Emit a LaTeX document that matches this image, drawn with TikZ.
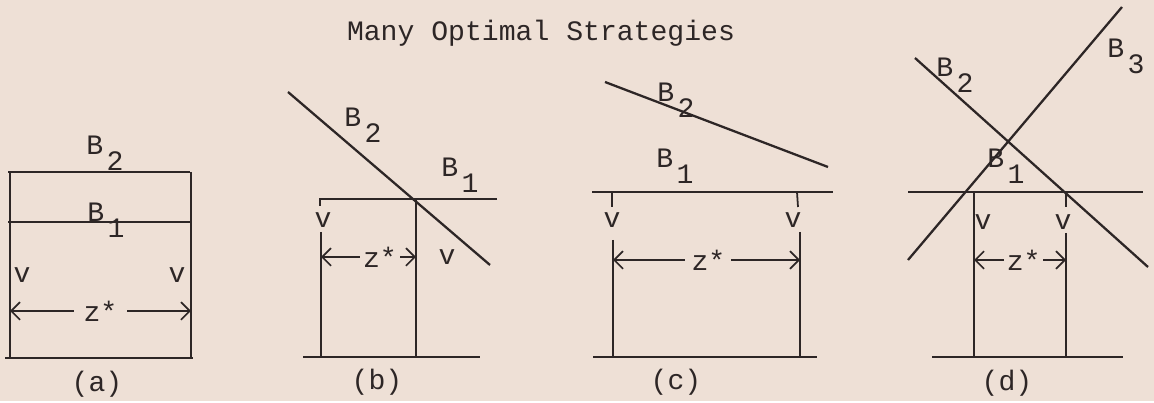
\documentclass[tikz,border=0pt]{standalone}
\usepackage{fontspec}
\setmonofont{Liberation Mono}
\usetikzlibrary{arrows.meta}
\definecolor{paper}{RGB}{238,224,214}
\definecolor{ink}{RGB}{45,38,38}
\newcommand{\bsub}[1]{B\kern2pt\raisebox{-0.55em}{#1}}

\begin{document}
\begin{tikzpicture}[
  x=0.02cm, y=-0.02cm,
  every node/.style={text=ink, font=\ttfamily\fontsize{16}{18}\selectfont},
  budget/.style={ink, line width=1.3pt},
  guide/.style={ink, line width=1pt},
  span/.style={ink, line width=1pt, {Straight Barb[length=5pt]}-{Straight Barb[length=5pt]}},
  blab/.style={anchor=base west, inner sep=0pt},
  zlab/.style={fill=paper, inner ysep=1pt, inner xsep=2pt},
]
  \fill[paper] (0,0) rectangle (1154,401);
  \node[anchor=base] (title) at (541,41) {Many Optimal Strategies};

  % (a)
  \coordinate (a2l) at (8,172);   \coordinate (a2r) at (190,172);
  \coordinate (a1l) at (8,222);   \coordinate (a1r) at (190,222);
  \coordinate (aLt) at (10,172);  \coordinate (aLb) at (10,358);
  \coordinate (aRt) at (191,172); \coordinate (aRb) at (191,358);
  \coordinate (abl) at (5,358);   \coordinate (abr) at (193,358);
  \coordinate (aza) at (10,311);  \coordinate (azb) at (191,311);
  \draw[budget] (a2l) -- (a2r);
  \draw[budget] (a1l) -- (a1r);
  \draw[budget] (abl) -- (abr);
  \draw[guide] (aLt) -- (aLb);
  \draw[guide] (aRt) -- (aRb);
  \draw[span] (aza) -- node[zlab, inner xsep=5.4pt] (az) {z*} (azb);
  \node[blab] (aB2) at (86,155) {\bsub{2}};
  \node[blab] (aB1) at (87,222) {\bsub{1}};
  \node (av1) at (22,275) {v};
  \node (av2) at (177,275) {v};
  \node (acap) at (97,384) {(a)};

  % (b)
  \coordinate (b2a) at (288,92);  \coordinate (b2b) at (490,265);
  \coordinate (b1l) at (320,199); \coordinate (b1r) at (497,199);
  \coordinate (btk) at (320,206);
  \coordinate (bLt) at (321,232); \coordinate (bLb) at (321,357);
  \coordinate (bRt) at (416,199); \coordinate (bRb) at (416,357);
  \coordinate (bbl) at (303,357); \coordinate (bbr) at (480,357);
  \coordinate (bza) at (321,257); \coordinate (bzb) at (416,257);
  \draw[budget] (b2a) -- (b2b);
  \draw[budget] (b1r) -- (b1l) -- (btk);
  \draw[budget] (bbl) -- (bbr);
  \draw[guide] (bLt) -- (bLb);
  \draw[guide] (bRt) -- (bRb);
  \draw[span] (bza) -- node[zlab, pos=0.62] (bz) {z*} (bzb);
  \node[blab] (bB2) at (344,127) {\bsub{2}};
  \node[blab] (bB1) at (441,177) {\bsub{1}};
  \node (bv1) at (323,220) {v};
  \node (bv2) at (447,257) {v};
  \node (bcap) at (377,382) {(b)};

  % (c)
  \coordinate (c2a) at (605,82);  \coordinate (c2b) at (828,167);
  \coordinate (c1l) at (592,192); \coordinate (c1r) at (833,192);
  \coordinate (cLk) at (612,192); \coordinate (cLj) at (612,207);
  \coordinate (cRk) at (797,192); \coordinate (cRj) at (798,207);
  \coordinate (cLt) at (613,240); \coordinate (cLb) at (613,357);
  \coordinate (cRt) at (800,232); \coordinate (cRb) at (800,357);
  \coordinate (cbl) at (593,357); \coordinate (cbr) at (817,357);
  \coordinate (cza) at (613,260); \coordinate (czb) at (800,260);
  \draw[budget] (c2a) -- (c2b);
  \draw[budget] (c1l) -- (c1r);
  \draw[budget] (cbl) -- (cbr);
  \draw[guide] (cLk) -- (cLj);
  \draw[guide] (cRk) -- (cRj);
  \draw[guide] (cLt) -- (cLb);
  \draw[guide] (cRt) -- (cRb);
  \draw[span] (cza) -- node[zlab, pos=0.51, inner xsep=3.5pt] (cz) {z*} (czb);
  \node[blab] (cB2) at (657,102) {\bsub{2}};
  \node[blab] (cB1) at (656,168) {\bsub{1}};
  \node (cv1) at (612,220) {v};
  \node (cv2) at (793,220) {v};
  \node (ccap) at (676,382) {(c)};

  % (d)
  \coordinate (d3a) at (908,260);  \coordinate (d3b) at (1122,7);
  \coordinate (d2a) at (915,58);   \coordinate (d2b) at (1148,267);
  \coordinate (d1l) at (908,192);  \coordinate (d1r) at (1143,192);
  \coordinate (dLt) at (974,192);  \coordinate (dLb) at (974,357);
  \coordinate (dRk) at (1066,192); \coordinate (dRj) at (1066,207);
  \coordinate (dRt) at (1066,233); \coordinate (dRb) at (1066,357);
  \coordinate (dbl) at (932,357);  \coordinate (dbr) at (1123,357);
  \coordinate (dza) at (974,260);  \coordinate (dzb) at (1066,260);
  \draw[budget] (d3a) -- (d3b);
  \draw[budget] (d2a) -- (d2b);
  \draw[budget] (d1l) -- (d1r);
  \draw[budget] (dbl) -- (dbr);
  \draw[guide] (dLt) -- (dLb);
  \draw[guide] (dRk) -- (dRj);
  \draw[guide] (dRt) -- (dRb);
  \draw[span] (dza) -- node[zlab, pos=0.54, inner xsep=1.5pt] (dz) {z*} (dzb);
  \node[blab] (dB2) at (936,77) {\bsub{2}};
  \node[blab] (dB3) at (1107,58) {\bsub{3}};
  \node[blab] (dB1) at (987,168) {\bsub{1}};
  \node (dv1) at (983,222) {v};
  \node (dv2) at (1063,222) {v};
  \node (dcap) at (1007,383) {(d)};
\end{tikzpicture}
\end{document}
